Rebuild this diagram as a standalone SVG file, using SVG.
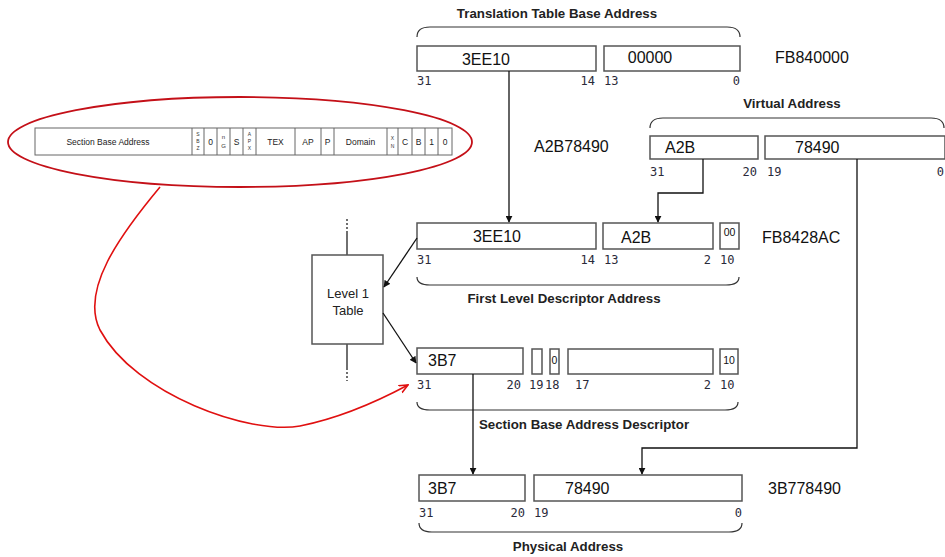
<svg xmlns="http://www.w3.org/2000/svg" width="945" height="557" viewBox="0 0 945 557">
<style>
.box{fill:#fff;stroke:#555;stroke-width:1.5}
.hex{font-family:"Liberation Sans",Arial,sans-serif;font-size:16px;fill:#111}
.bit{font-family:"DejaVu Sans Mono","Liberation Mono",monospace;font-size:12px;fill:#2a2a3a}
.title{font-family:"Liberation Sans",Arial,sans-serif;font-size:13.3px;font-weight:bold;fill:#222;text-anchor:middle}
.brace{fill:none;stroke:#333;stroke-width:1.2}
.con{fill:none;stroke:#111;stroke-width:1.3}
.cell{fill:none;stroke:#666;stroke-width:1}
.small{font-family:"Liberation Sans",Arial,sans-serif;font-size:8.5px;fill:#222;text-anchor:middle}
.tiny{font-family:"Liberation Sans",Arial,sans-serif;font-size:5px;fill:#333;text-anchor:middle}
.lbl{font-family:"Liberation Sans",Arial,sans-serif;font-size:13px;fill:#222;text-anchor:middle}
.sm{font-family:"Liberation Sans",Arial,sans-serif;font-size:10.5px;fill:#111;text-anchor:middle}
</style>
<defs>
<marker id="ah" viewBox="0 0 10 10" refX="9" refY="5" markerWidth="7" markerHeight="7" orient="auto" markerUnits="userSpaceOnUse">
<path d="M0,0 L10,5 L0,10 z" fill="#111"/>
</marker>
<marker id="rh" viewBox="0 0 10 10" refX="9" refY="5" markerWidth="10" markerHeight="10" orient="auto" markerUnits="userSpaceOnUse">
<path d="M0,1 L9,5 L0,9" fill="none" stroke="#e01010" stroke-width="1.6"/>
</marker>
</defs>
<rect width="945" height="557" fill="#fff"/>

<g id="ttba">
<text class="title" x="557" y="18">Translation Table Base Address</text>
<path class="brace" d="M417,37 Q417,27 430,27 L727,27 Q740,27 740,37"/>
<rect class="box" x="417" y="46" width="179" height="25"/>
<rect class="box" x="604" y="46" width="136" height="25"/>
<text class="hex" x="486" y="65" text-anchor="middle">3EE10</text>
<text class="hex" x="650" y="63" text-anchor="middle">00000</text>
<text class="bit" x="417" y="85">31</text>
<text class="bit" x="595" y="85" text-anchor="end">14</text>
<text class="bit" x="604" y="85">13</text>
<text class="bit" x="740" y="85" text-anchor="end">0</text>
<text class="hex" x="775" y="63">FB840000</text>
</g>

<text class="hex" x="534" y="152">A2B78490</text>

<g id="va">
<text class="title" x="792" y="108">Virtual Address</text>
<path class="brace" d="M650,128 Q650,118 663,118 L931,118 Q944,118 944,128"/>
<rect class="box" x="650" y="136" width="108" height="23"/>
<rect class="box" x="765" y="136" width="180" height="23"/>
<text class="hex" x="665" y="153">A2B</text>
<text class="hex" x="795" y="153">78490</text>
<text class="bit" x="650" y="176">31</text>
<text class="bit" x="757" y="176" text-anchor="end">20</text>
<text class="bit" x="767" y="176">19</text>
<text class="bit" x="944" y="176" text-anchor="end">0</text>
</g>

<g id="fld">
<rect class="box" x="417" y="223" width="179" height="26"/>
<rect class="box" x="603" y="223" width="110" height="26"/>
<rect class="box" x="720" y="223" width="19" height="26"/>
<text class="hex" x="497" y="242" text-anchor="middle">3EE10</text>
<text class="hex" x="621" y="243">A2B</text>
<text class="sm" x="729.5" y="236">00</text>
<text class="bit" x="417" y="264">31</text>
<text class="bit" x="595" y="264" text-anchor="end">14</text>
<text class="bit" x="604" y="264">13</text>
<text class="bit" x="711" y="264" text-anchor="end">2</text>
<text class="bit" x="720" y="264">10</text>
<path class="brace" d="M417,277 Q417,285 430,285 L726,285 Q739,285 739,277"/>
<text class="title" x="564" y="303">First Level Descriptor Address</text>
<text class="hex" x="762" y="243">FB8428AC</text>
</g>

<g id="level1">
<line x1="347" y1="232" x2="347" y2="255" stroke="#222" stroke-width="1.3"/>
<line x1="347" y1="219" x2="347" y2="232" stroke="#222" stroke-width="1.3" stroke-dasharray="2,2"/>
<line x1="347" y1="344" x2="347" y2="368" stroke="#222" stroke-width="1.3"/>
<line x1="347" y1="368" x2="347" y2="381" stroke="#222" stroke-width="1.3" stroke-dasharray="2,2"/>
<rect class="box" x="312" y="255" width="71" height="89"/>
<text class="lbl" x="348" y="298">Level 1</text>
<text class="lbl" x="348" y="315">Table</text>
</g>

<g id="sbad">
<rect class="box" x="417" y="348" width="106" height="26"/>
<rect class="box" x="532" y="349" width="10" height="25"/>
<rect class="box" x="550" y="349" width="9" height="25"/>
<rect class="box" x="568" y="349" width="145" height="25"/>
<rect class="box" x="720" y="349" width="18" height="25"/>
<text class="hex" x="428" y="366">3B7</text>
<text class="sm" x="554.5" y="364">0</text>
<text class="sm" x="729" y="364">10</text>
<text class="bit" x="417" y="389">31</text>
<text class="bit" x="521" y="389" text-anchor="end">20</text>
<text class="bit" x="529" y="389">19</text>
<text class="bit" x="545" y="389">18</text>
<text class="bit" x="575" y="389">17</text>
<text class="bit" x="711" y="389" text-anchor="end">2</text>
<text class="bit" x="720" y="389">10</text>
<path class="brace" d="M417,402 Q417,410 430,410 L725,410 Q738,410 738,402"/>
<text class="title" x="584" y="429">Section Base Address Descriptor</text>
</g>

<g id="pa">
<rect class="box" x="419" y="475" width="106" height="26"/>
<rect class="box" x="534" y="475" width="208" height="26"/>
<text class="hex" x="428" y="494">3B7</text>
<text class="hex" x="565" y="494">78490</text>
<text class="bit" x="419" y="517">31</text>
<text class="bit" x="525" y="517" text-anchor="end">20</text>
<text class="bit" x="534" y="517">19</text>
<text class="bit" x="742" y="517" text-anchor="end">0</text>
<path class="brace" d="M419,523 Q419,532 432,532 L729,532 Q742,532 742,523"/>
<text class="title" x="568" y="551">Physical Address</text>
<text class="hex" x="768" y="494">3B778490</text>
</g>

<g id="descriptor-format">
<ellipse cx="240" cy="142" rx="232" ry="45" fill="none" stroke="#c41018" stroke-width="1.8"/>
<rect class="cell" x="35" y="128" width="417" height="27" fill="#fff"/>
<path class="cell" d="M192,128V155M204,128V155M217,128V155M230,128V155M243,128V155M256,128V155M295,128V155M321,128V155M334,128V155M387,128V155M398,128V155M412,128V155M425,128V155M438,128V155"/>
<text class="small" x="108" y="145">Section Base Address</text>
<text class="tiny" x="198" y="136">S</text>
<text class="tiny" x="198" y="143">B</text>
<text class="tiny" x="198" y="150">Z</text>
<text class="small" x="210.5" y="145">0</text>
<text class="tiny" x="223.5" y="139" style="font-size:6px">n</text>
<text class="tiny" x="223.5" y="148" style="font-size:6px">G</text>
<text class="small" x="236.5" y="145">S</text>
<text class="tiny" x="249.5" y="136">A</text>
<text class="tiny" x="249.5" y="143">P</text>
<text class="tiny" x="249.5" y="150">X</text>
<text class="small" x="275.5" y="145">TEX</text>
<text class="small" x="308" y="145">AP</text>
<text class="small" x="327.5" y="145">P</text>
<text class="small" x="360.5" y="145">Domain</text>
<text class="tiny" x="392.5" y="140">X</text>
<text class="tiny" x="392.5" y="148">N</text>
<text class="small" x="405" y="145">C</text>
<text class="small" x="418.5" y="145">B</text>
<text class="small" x="431.5" y="145">1</text>
<text class="small" x="445" y="145">0</text>
</g>

<g id="connectors">
<line class="con" x1="509" y1="71" x2="509" y2="222" marker-end="url(#ah)"/>
<polyline class="con" points="703,159 703,193 658,193 658,222" marker-end="url(#ah)"/>
<polyline class="con" points="857,159 857,448 642,448 642,474" marker-end="url(#ah)"/>
<line class="con" x1="473" y1="374" x2="473" y2="474" marker-end="url(#ah)"/>
<line class="con" x1="417" y1="238" x2="384" y2="287" marker-end="url(#ah)"/>
<line class="con" x1="383" y1="313" x2="416" y2="363" marker-end="url(#ah)"/>
<path d="M160,187 C120,235 80,290 100,330 C135,395 250,435 300,426 C340,418 380,400 408,385" fill="none" stroke="#e01010" stroke-width="1.6" marker-end="url(#rh)"/>
</g>
</svg>
